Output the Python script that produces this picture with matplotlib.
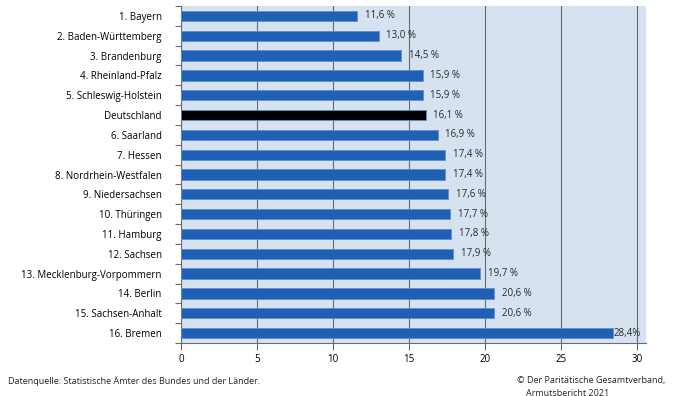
import matplotlib
matplotlib.use("Agg")
import matplotlib.pyplot as plt
import numpy as np

plt.rcParams['font.family'] = ['Liberation Sans Narrow', 'Open Sans', 'DejaVu Sans']

laender = ['1. Bayern', '2. Baden-Württemberg', '3. Brandenburg', '4. Rheinland-Pfalz',
           '5. Schleswig-Holstein', 'Deutschland', '6. Saarland', '7. Hessen',
           '8. Nordrhein-Westfalen', '9. Niedersachsen', '10. Thüringen', '11. Hamburg',
           '12. Sachsen', '13. Mecklenburg-Vorpommern', '14. Berlin', '15. Sachsen-Anhalt',
           '16. Bremen']
quote = [11.6, 13.0, 14.5, 15.9, 15.9, 16.1, 16.9, 17.4, 17.4, 17.6, 17.7, 17.8,
         17.9, 19.7, 20.6, 20.6, 28.4]
xticks = [0, 5, 10, 15, 20, 25, 30]

blau = '#1f5fb4'
farben = ['black' if l == 'Deutschland' else blau for l in laender]

fig = plt.figure(figsize=(6.73, 3.96), dpi=100)
ax = fig.add_axes([181/673, 1 - 343/396, (646 - 181)/673, (343 - 6)/396])
ax.set_facecolor('#d6e2ef')

y = np.arange(len(laender))
ax.barh(y, quote, height=0.52, color=farben, edgecolor='#5b8fd0', linewidth=0.6, zorder=3)

for yi, v in zip(y, quote):
    txt = f'{v:.1f}'.replace('.', ',')
    if v > 25:
        # Bremen: Wert steht direkt am Balken
        ax.text(v + 0.05, yi, txt + '%', va='center', ha='left', fontsize=7, color='#2a2a2a', zorder=4)
    else:
        ax.text(v + 0.5, yi, txt + ' %', va='center', ha='left', fontsize=7, color='#2a2a2a', zorder=4)

ax.set_xlim(0, 30.6)
ax.set_ylim(len(laender) - 0.5, -0.5)
ax.set_xticks(xticks)
ax.set_xticklabels([str(t) for t in xticks], fontsize=7)
ax.grid(axis='x', color='#6b6b6b', linewidth=0.8, zorder=1)

ax.set_yticks(y)
ax.set_yticklabels(laender, fontsize=7)
ax.set_yticks(np.arange(-0.5, len(laender), 1), minor=True)
ax.tick_params(axis='y', which='major', length=0, pad=14)
ax.tick_params(axis='y', which='minor', length=4, color='#6b6b6b', width=0.8)
ax.tick_params(axis='x', length=5, color='#6b6b6b', width=0.8, pad=3)

for s in ['top', 'right']:
    ax.spines[s].set_visible(False)
for s in ['left', 'bottom']:
    ax.spines[s].set_color('#6b6b6b')
    ax.spines[s].set_linewidth(0.8)

fig.text(8/673, 1 - 381/396, 'Datenquelle: Statistische Ämter des Bundes und der Länder.',
         fontsize=6.5, va='center', ha='left', color='#222222')
fig.text(517/673, 1 - 380/396, '© Der Paritätische Gesamtverband,',
         fontsize=6.5, va='center', ha='left', color='#222222')
fig.text(526/673, 1 - 393/396, 'Armutsbericht 2021',
         fontsize=6.5, va='center', ha='left', color='#222222')

fig.savefig('out.png', dpi=100)
